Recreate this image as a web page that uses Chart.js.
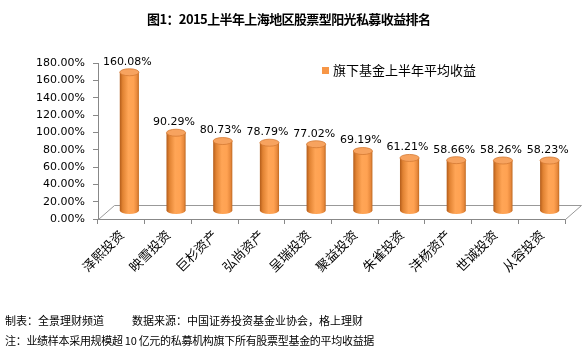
<!DOCTYPE html>
<html>
<head>
<meta charset="utf-8">
<script src="https://cdn.jsdelivr.net/npm/chart.js@4.4.1/dist/chart.umd.min.js"></script>
<style>
  html, body { margin: 0; padding: 0; background: #fff; }
  #wrap { position: relative; width: 586px; height: 349px; overflow: hidden; }
  #chart { position: absolute; left: 0; top: 0; }
  .txt { position: absolute; font-family: "Noto Sans CJK SC", sans-serif; color: #000; white-space: nowrap; }
  #title { left: 147px; top: 9px; font-size: 13px; font-weight: bold; letter-spacing: -0.6px; }
  .note { font-size: 11px; line-height: 14px; }
</style>
</head>
<body>
<div id="wrap">
  <canvas id="chart" width="586" height="349"></canvas>
  <div id="title" class="txt">图1：2015上半年上海地区股票型阳光私募收益排名</div>
  <div class="txt note" style="left:5px; top:313px;">制表：全景理财频道</div>
  <div class="txt note" style="left:132px; top:313px;">数据来源：中国证券投资基金业协会，格上理财</div>
  <div class="txt note" style="left:5px; top:333px; letter-spacing:-0.3px;">注：业绩样本采用规模超 10 亿元的私募机构旗下所有股票型基金的平均收益据</div>
</div>
<script>
const categories = ['泽熙投资', '映雪投资', '巨杉资产', '弘尚资产', '呈瑞投资', '聚益投资', '朱雀投资', '沣杨资产', '世诚投资', '从容投资'];
const returns = [160.08, 90.29, 80.73, 78.79, 77.02, 69.19, 61.21, 58.66, 58.26, 58.23];
const seriesName = '旗下基金上半年平均收益';
const yMin = 0, yMax = 180, yStep = 20;

// bars sit half way back on the 3D floor
const DEPTH = { x: 16, y: -14 };
const SHIFT = { x: 8, y: -8 };

const cylinderPlugin = {
  id: 'cylinder3d',
  beforeDatasetsDraw(chart) {
    const { ctx, chartArea: a } = chart;
    ctx.save();
    ctx.strokeStyle = '#999';
    ctx.lineWidth = 1;
    ctx.beginPath();
    ctx.moveTo(a.left + 0.5, a.bottom + 0.5);
    ctx.lineTo(a.left + DEPTH.x + 0.5, a.bottom + DEPTH.y + 0.5);
    ctx.lineTo(a.right + DEPTH.x + 0.5, a.bottom + DEPTH.y + 0.5);
    ctx.lineTo(a.right + 0.5, a.bottom + 0.5);
    ctx.stroke();
    ctx.restore();
  },
  afterDatasetsDraw(chart) {
    const { ctx } = chart;
    const meta = chart.getDatasetMeta(0);
    ctx.save();
    meta.data.forEach((el, i) => {
      const cx = el.x + SHIFT.x;
      const top = el.y + SHIFT.y;
      const base = el.base + SHIFT.y;
      const rx = el.width / 2;
      const ry = 3.5;

      const g = ctx.createLinearGradient(cx - rx, 0, cx + rx, 0);
      g.addColorStop(0, '#b35c1a');
      g.addColorStop(0.15, '#e08232');
      g.addColorStop(0.45, '#ffa556');
      g.addColorStop(0.72, '#ffa252');
      g.addColorStop(0.9, '#e8893c');
      g.addColorStop(1, '#c06a22');

      ctx.beginPath();
      ctx.moveTo(cx - rx, top);
      ctx.lineTo(cx - rx, base);
      ctx.ellipse(cx, base, rx, ry, 0, Math.PI, 0, true);
      ctx.lineTo(cx + rx, top);
      ctx.closePath();
      ctx.fillStyle = g;
      ctx.fill();

      ctx.beginPath();
      ctx.ellipse(cx, top, rx, ry, 0, 0, Math.PI * 2);
      ctx.fillStyle = '#f7a35f';
      ctx.fill();
      ctx.strokeStyle = '#d47a34';
      ctx.lineWidth = 0.8;
      ctx.stroke();

      ctx.fillStyle = '#000';
      ctx.font = '11px "DejaVu Sans"';
      ctx.textAlign = 'center';
      ctx.textBaseline = 'bottom';
      ctx.fillText(returns[i].toFixed(2) + '%', cx - 2, top - 5);
    });

    // legend
    ctx.fillStyle = '#f79646';
    ctx.fillRect(322, 67, 7, 7);
    ctx.fillStyle = '#000';
    ctx.font = '13px "Noto Sans CJK SC"';
    ctx.textAlign = 'left';
    ctx.textBaseline = 'middle';
    ctx.fillText(seriesName, 333, 70);
    ctx.restore();
  }
};

const ctx = document.getElementById('chart');
new Chart(ctx, {
  type: 'bar',
  data: {
    labels: categories,
    datasets: [{
      label: seriesName,
      data: returns,
      backgroundColor: 'rgba(0,0,0,0)',
      borderWidth: 0,
      barPercentage: 0.41,
      categoryPercentage: 1
    }]
  },
  options: {
    responsive: false,
    animation: false,
    layout: { padding: { top: 63, right: 21, bottom: 0, left: 0 } },
    plugins: {
      legend: { display: false },
      tooltip: { enabled: false }
    },
    scales: {
      y: {
        min: yMin,
        max: yMax,
        afterFit: s => { s.width = 98; },
        ticks: {
          stepSize: yStep,
          color: '#000',
          padding: 8,
          font: { size: 11, family: "'DejaVu Sans'" },
          callback: v => v.toFixed(2) + '%'
        },
        grid: { drawOnChartArea: false, tickLength: 5, color: '#888' },
        border: { color: '#888' }
      },
      x: {
        afterFit: s => { s.height = 130; },
        ticks: {
          color: '#000',
          maxRotation: 45,
          minRotation: 45,
          padding: 3,
          font: { size: 13, family: "'Noto Sans CJK SC'" }
        },
        grid: { offset: true, drawOnChartArea: false, tickLength: 5, color: '#888' },
        border: { color: '#888' }
      }
    }
  },
  plugins: [cylinderPlugin]
});
</script>
</body>
</html>
